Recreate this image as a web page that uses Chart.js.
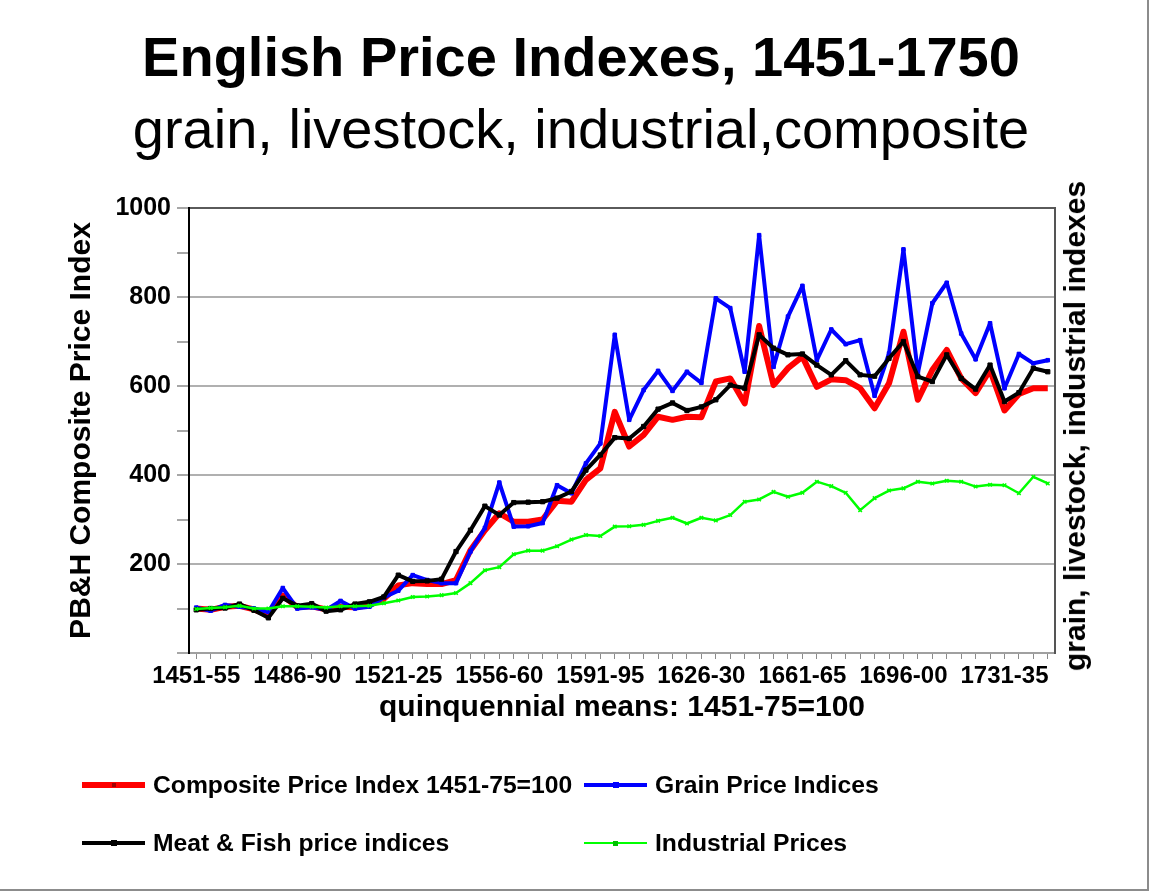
<!DOCTYPE html>
<html>
<head>
<meta charset="utf-8">
<script src="https://cdn.jsdelivr.net/npm/chart.js@4.4.1/dist/chart.umd.min.js"></script>
<style>
html,body{margin:0;padding:0;background:#fff;}
#wrap{position:relative;width:1151px;height:893px;overflow:hidden;font-family:"Liberation Sans",Arial,Helvetica,sans-serif;}
#c{position:absolute;left:0;top:0;}
#frame{position:absolute;left:0;top:0;width:1147px;height:889px;border-right:2px solid #8c8c8c;border-bottom:2px solid #8c8c8c;pointer-events:none;}
#rtitle{position:absolute;left:1075px;top:426px;transform:translate(-50%,-50%) rotate(-90deg);white-space:nowrap;font-weight:bold;font-size:30px;line-height:34px;color:#000;}
.lgline{position:absolute;width:63px;}
.lgmark{position:absolute;}
.lgtext{position:absolute;white-space:nowrap;font-weight:bold;font-size:24.7px;line-height:30px;color:#000;}
</style>
</head>
<body>
<div id="wrap">
  <canvas id="c" width="1151" height="893"></canvas>
  <div id="rtitle"></div>
  <div id="legend"></div>
  <div id="frame"></div>
</div>
<script>
// ---- data ----
const periods = [
 '1451-55','1456-60','1461-65','1466-70','1471-75','1476-80','1481-85','1486-90','1491-95','1496-00',
 '1501-05','1506-10','1511-15','1516-20','1521-25','1526-30','1531-35','1536-40','1541-45','1546-50',
 '1551-55','1556-60','1561-65','1566-70','1571-75','1576-80','1581-85','1586-90','1591-95','1596-00',
 '1601-05','1606-10','1611-15','1616-20','1621-25','1626-30','1631-35','1636-40','1641-45','1646-50',
 '1651-55','1656-60','1661-65','1666-70','1671-75','1676-80','1681-85','1686-90','1691-95','1696-00',
 '1701-05','1706-10','1711-15','1716-20','1721-25','1726-30','1731-35','1736-40','1741-45','1746-50'
];
const shownXTicks = ['1451-55','1486-90','1521-25','1556-60','1591-95','1626-30','1661-65','1696-00','1731-35'];
const shownYTicks = [200, 400, 600, 800, 1000];

const composite = [
 100, 97,104,106, 98, 85,129,103,105, 98,
 104,103,108,122,152,157,155,155,164,231,
 276,314,295,295,300,342,340,389,415,542,
 464,490,531,524,531,530,610,617,561,735,
 602,640,666,598,615,613,595,550,606,722,
 569,636,681,617,584,636,545,582,595,595
];
const grain = [
 102, 95,108,104,100, 92,146,100,103, 97,
 117,100,104,125,140,175,164,157,157,228,
 281,383,284,285,292,377,359,426,471,715,
 524,591,634,589,632,607,797,775,632,939,
 643,756,825,658,727,694,703,578,673,907,
 629,786,832,718,660,741,595,672,651,658
];
const meatFish = [
  97,100,101,110, 96, 79,123,106,111, 94,
  97,110,115,126,175,161,162,166,228,276,
 330,310,338,339,340,348,363,411,445,484,
 482,509,548,562,545,553,569,602,595,715,
 685,670,672,647,625,657,625,622,662,700,
 621,610,670,617,593,647,565,585,640,632
];
const industrial = [
  99,101,103,106,100,100,105,105,104,102,
 105,105,106,112,118,126,127,130,135,157,
 186,193,222,230,230,240,255,265,263,284,
 285,288,297,304,291,304,298,310,340,345,
 362,351,360,385,375,360,321,348,365,370,
 385,381,387,385,374,378,377,359,396,381
];

const titleText = 'English Price Indexes, 1451-1750';
const subtitleText = 'grain, livestock, industrial,composite';
const xTitle = 'quinquennial means: 1451-75=100';
const yTitle = 'PB&H Composite Price Index';
const y2Title = 'grain, livestock, industrial indexes';

// ---- chart ----
const F = '"Liberation Sans", Arial, Helvetica, sans-serif';
Chart.defaults.color = '#000';
Chart.defaults.font.family = F;

const chart = new Chart(document.getElementById('c'), {
  type: 'line',
  data: {
    labels: periods,
    datasets: [
      {label:'Composite Price Index 1451-75=100', data:composite, borderColor:'#ff0000', backgroundColor:'#ff0000',
       borderWidth:6, borderJoinStyle:'round', pointRadius:0, tension:0, order:4, lgW:6, lgM:4, lgMC:'#a00000'},
      {label:'Grain Price Indices', data:grain, borderColor:'#0000ff', backgroundColor:'#0000ff',
       borderWidth:4, borderJoinStyle:'round', pointStyle:'rect', pointRadius:2.5, pointBorderWidth:1, tension:0, order:3, lgW:4, lgM:6, lgMC:'#0000ff'},
      {label:'Meat & Fish price indices', data:meatFish, borderColor:'#000000', backgroundColor:'#000000',
       borderWidth:4, borderJoinStyle:'round', pointStyle:'rect', pointRadius:3, pointBorderWidth:1, tension:0, order:2, lgW:4, lgM:6, lgMC:'#000000'},
      {label:'Industrial Prices', data:industrial, borderColor:'#00ff00', backgroundColor:'#00ff00',
       borderWidth:2.5, borderJoinStyle:'round', pointStyle:'crossRot', pointRadius:2.5, pointBorderWidth:1.5, tension:0, order:1, lgW:2, lgM:5, lgMC:'#00c000'}
    ]
  },
  options: {
    responsive:false, animation:false, devicePixelRatio:1,
    layout:{padding:{left:11, right:0, top:0, bottom:167}},
    plugins:{
      legend:{display:false},
      tooltip:{enabled:false},
      title:{display:true, text:titleText, color:'#000', font:{family:F, size:56, weight:'bold'}, padding:{top:27, bottom:0}},
      subtitle:{display:true, text:subtitleText, color:'#000', font:{family:F, size:56, weight:'normal'}, padding:{top:5, bottom:41.6}}
    },
    scales:{
      x:{
        type:'category', offset:true,
        grid:{display:true, offset:false, drawOnChartArea:false, drawTicks:true, tickLength:6, color:'#8a8a8a', lineWidth:1},
        border:{display:true, color:'#a0a0a0', width:2},
        ticks:{autoSkip:false, maxRotation:0, minRotation:0, padding:3, color:'#000',
               font:{family:F, size:24, weight:'bold'},
               callback:(v,i)=> shownXTicks.includes(periods[i]) ? periods[i] : ''},
        title:{display:true, text:xTitle, color:'#000', font:{family:F, size:30, weight:'bold'}, padding:0},
        afterFit:(s)=>{ s.height = 73; }
      },
      y:{
        position:'left', min:0, max:1000,
        grid:{display:true, drawTicks:true, tickLength:12, lineWidth:2,
              color:(c)=>{ const v=c.tick ? c.tick.value : 0; if (v===0 || v%200!==0) return 'rgba(0,0,0,0)'; return v===1000 ? '#5a5a5a' : '#b0b0b0'; },
              tickColor:'#8a8a8a', tickWidth:1.5},
        border:{display:true, color:'#000', width:2},
        ticks:{stepSize:100, padding:6, color:'#000', font:{family:F, size:25, weight:'bold'},
               callback:(v)=> shownYTicks.includes(v) ? String(v) : ''},
        title:{display:true, text:yTitle, color:'#000', font:{family:F, size:30, weight:'bold'}, padding:{top:53, bottom:0}},
        afterFit:(s)=>{ s.width = 178; }
      },
      y2:{
        position:'right', min:0, max:1000,
        ticks:{display:false},
        grid:{display:false},
        border:{display:true, color:'#555', width:2},
        afterFit:(s)=>{ s.width = 96; }
      }
    }
  }
});

// ---- right axis title (reads bottom to top) ----
document.getElementById('rtitle').textContent = y2Title;

// ---- legend built from the datasets ----
const legendSlots = [[82,785],[584,785],[82,843],[584,843]];
const lg = document.getElementById('legend');
chart.data.datasets.forEach((ds, k) => {
  const [x, y] = legendSlots[k];
  const line = document.createElement('div');
  line.className = 'lgline';
  line.style.left = x + 'px';
  line.style.top = (y - ds.lgW/2) + 'px';
  line.style.height = ds.lgW + 'px';
  line.style.background = ds.borderColor;
  lg.appendChild(line);
  const m = document.createElement('div');
  m.className = 'lgmark';
  m.style.left = (x + 31.5 - ds.lgM/2) + 'px';
  m.style.top = (y - ds.lgM/2) + 'px';
  m.style.width = ds.lgM + 'px';
  m.style.height = ds.lgM + 'px';
  m.style.background = ds.lgMC;
  lg.appendChild(m);
  const t = document.createElement('div');
  t.className = 'lgtext';
  t.style.left = (x + 71) + 'px';
  t.style.top = (y - 15) + 'px';
  t.textContent = ds.label;
  lg.appendChild(t);
});
</script>
</body>
</html>
